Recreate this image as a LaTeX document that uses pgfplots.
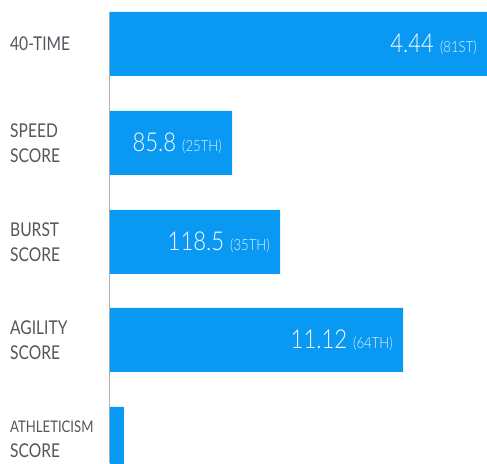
\documentclass[border=0pt]{standalone}
\usepackage{fontspec}
\setmainfont{Lato}[FakeStretch=0.82]
\newfontfamily\lightfont{Lato Light}[FakeStretch=0.85]
\usepackage{pgfplots}
\usepackage{pgfplotstable}
\pgfplotsset{compat=1.18}
\definecolor{barblue}{HTML}{0A99F2}
\definecolor{labgray}{HTML}{55555D}
\definecolor{axgray}{HTML}{B0B0B0}
\definecolor{pctcol}{HTML}{E2F1FD}
\newcommand{\vl}[2]{\lightfont{\fontsize{26}{26}\selectfont #1}\hspace{6pt}{\fontsize{15.5}{16}\selectfont\color{pctcol}(#2)}}
\pgfplotstableread[col sep=comma]{
y,x,label
419,377,{\vl{4.44}{81ST}}
320,122,{\vl{85.8}{25TH}}
221,170,{\vl{118.5}{35TH}}
123,293,{\vl{11.12}{64TH}}
24,14,{}
}\datatable
\begin{document}
\begin{tikzpicture}
\useasboundingbox (-110pt,0pt) rectangle (377pt,463pt);
\begin{axis}[
  at={(0pt,0pt)}, anchor=south west,
  scale only axis, width=377pt, height=451pt,
  xmin=0, xmax=377, ymin=0, ymax=451,
  xbar, bar width=64pt,
  axis x line=none,
  axis y line*=left,
  y axis line style={draw=axgray, line width=1pt, -},
  ytick={419,320,221,123,24},
  yticklabels={{40-TIME},{SPEED\\SCORE},{BURST\\SCORE},{AGILITY\\SCORE},{\fontsize{16}{20}\selectfont ATHLETICISM\\SCORE}},
  major tick length=0pt,
  yticklabel style={anchor=west, xshift=-100pt, inner sep=0pt, align=left, text=labgray, font=\fontsize{19}{25}\selectfont},
  point meta=explicit symbolic,
  nodes near coords,
  every node near coord/.append style={anchor=east, xshift=-10pt, text=white, inner sep=0pt},
]
\addplot[fill=barblue, draw=none] table[x=x, y=y, meta=label] {\datatable};
\end{axis}
\end{tikzpicture}
\end{document}
